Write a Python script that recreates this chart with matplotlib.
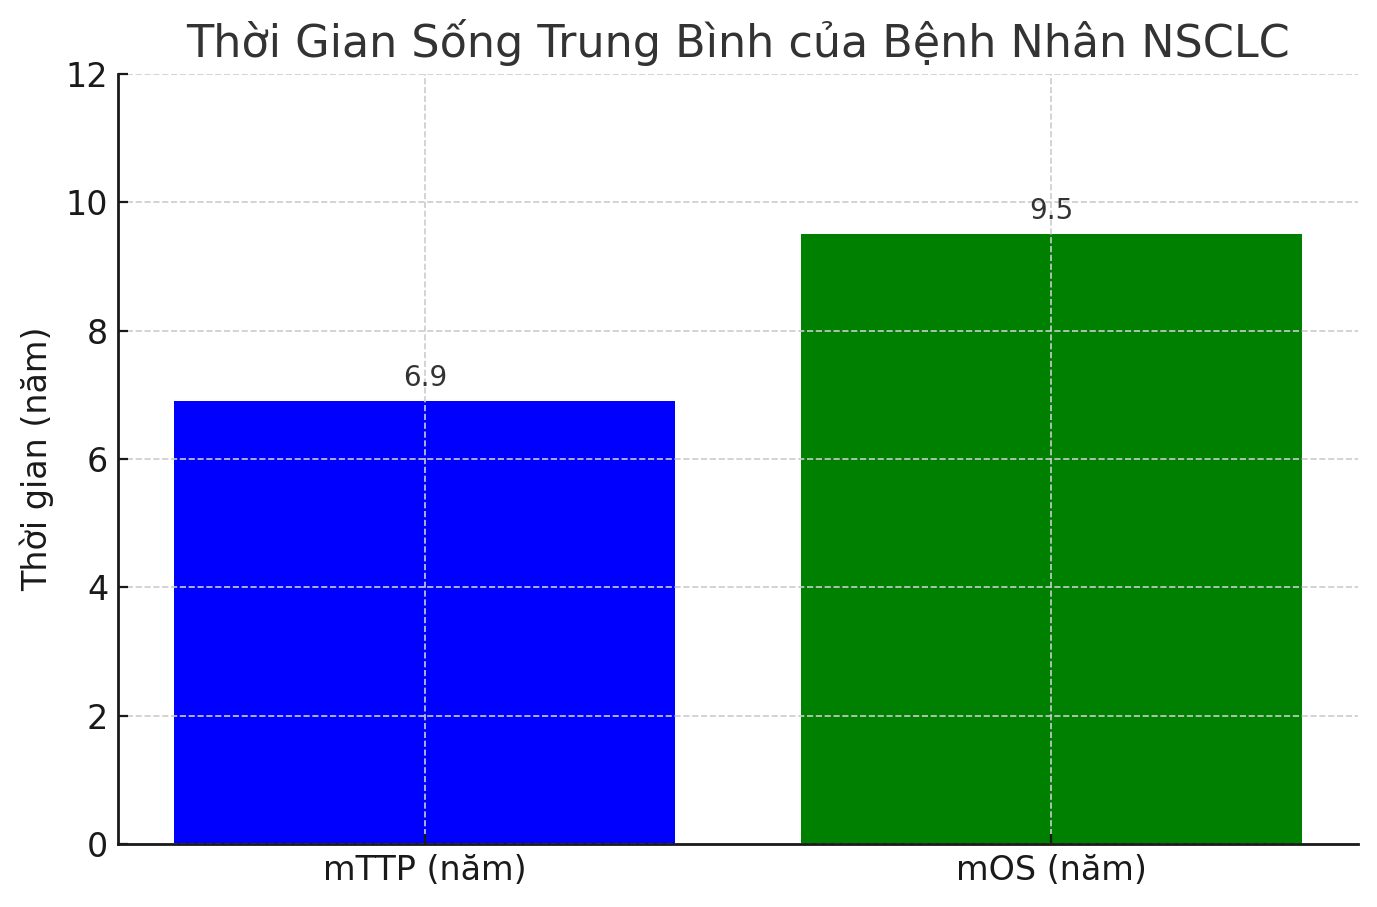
import matplotlib
matplotlib.use("Agg")
import matplotlib.pyplot as plt

# Data
categories = ["mTTP (năm)", "mOS (năm)"]
values = [6.9, 9.5]
colors = ["blue", "green"]

fig, ax = plt.subplots(figsize=(13.77 / 2, 9.07 / 2), dpi=200)
fig.subplots_adjust(left=0.0857, right=0.9862, top=0.9184, bottom=0.0695)

bars = ax.bar(categories, values, color=colors, width=0.8)

for bar, v in zip(bars, values):
    ax.text(bar.get_x() + bar.get_width() / 2, v + 0.15, f"{v}",
            ha="center", va="bottom", fontsize=10, color="#333333")

ax.set_ylim(0, 12)
ax.set_yticks(range(0, 13, 2))
ax.set_title("Thời Gian Sống Trung Bình của Bệnh Nhân NSCLC",
             fontsize=16, color="#333333")
ax.set_ylabel("Thời gian (năm)", fontsize=12, color="#1a1a1a")

ax.grid(True, linestyle="--", color="#cccccc", linewidth=0.6)
ax.set_axisbelow("line")
ax.tick_params(axis="both", direction="in", labelsize=12, colors="#1a1a1a")

for side in ["top", "right"]:
    ax.spines[side].set_visible(False)
for side in ["left", "bottom"]:
    ax.spines[side].set_color("#1a1a1a")
    ax.spines[side].set_linewidth(1.0)

plt.savefig("out.png", dpi=200)
plt.close()
